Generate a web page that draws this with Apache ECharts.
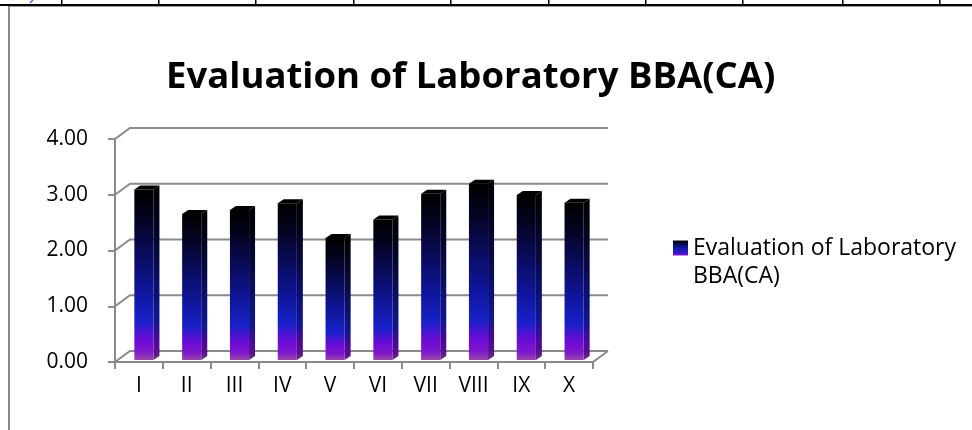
<!DOCTYPE html>
<html><head><meta charset="utf-8">
<script src="https://cdn.jsdelivr.net/npm/echarts@6/dist/echarts.min.js"></script>
<style>html,body{margin:0;padding:0;background:#fff}#c{width:972px;height:430px}</style>
</head><body><div id="c"></div>
<script>
const categories = ['I','II','III','IV','V','VI','VII','VIII','IX','X'];
const values = [3.06, 2.62, 2.69, 2.81, 2.19, 2.52, 2.98, 3.16, 2.96, 2.82];
const yTicks = [0, 1, 2, 3, 4];
const seriesName = 'Evaluation of Laboratory BBA(CA)';
const titleText = 'Evaluation of Laboratory BBA(CA)';

const FONT = 'Open Sans';
const DX = 15, DY = 11;
const BAR_DX = 6, BAR_DY = 4;
const BAR_OFF_X = 5, BAR_OFF_Y = 2;
const GRID_COLOR = '#8a8a8a';

function grad(stops) {
  return new echarts.graphic.LinearGradient(0, 0, 0, 1, stops.map(s => ({offset: s[0], color: s[1]})));
}
const frontStops = [[0,'#000000'],[0.15,'#03031c'],[0.4,'#0a0c62'],[0.6,'#0f169c'],[0.77,'#1820c8'],[0.88,'#6a0cd6'],[0.95,'#7e16cc'],[1,'#9848a8']];
const sideStops = [[0,'#000000'],[0.15,'#020214'],[0.4,'#070945'],[0.6,'#0b1070'],[0.77,'#11178e'],[0.88,'#4a0896'],[0.95,'#581090'],[1,'#6a3078']];
const legendStops = [[0,'#000000'],[0.5,'#1018a8'],[0.85,'#3a18d0'],[1,'#8a10d8']];

const chart = echarts.init(document.getElementById('c'));
chart.setOption({
  animation: false,
  backgroundColor: '#fff',
  title: {
    text: titleText, left: 161, top: 54,
    textStyle: {fontFamily: FONT, fontWeight: 'bold', fontSize: 36.5, color: '#000'}
  },
  legend: {
    orient: 'vertical', left: 673, top: 206, padding: 0, icon: 'rect', itemWidth: 15, itemHeight: 15,
    data: [{name: seriesName, itemStyle: {color: grad(legendStops)}}],
    formatter: n => '{e| }\n{a|' + n.replace(' BBA', '}\n{a|BBA') + '}',
    textStyle: {
      fontFamily: FONT, fontSize: 23, color: '#000', lineHeight: 28,
      rich: {e: {fontSize: 23, lineHeight: 28}, a: {fontFamily: FONT, fontSize: 23, color: '#000', lineHeight: 28}}
    }
  },
  grid: {left: 115, right: 379, top: 139, bottom: 68, containLabel: false},
  xAxis: {
    type: 'category', data: categories, boundaryGap: true,
    axisLine: {show: true, lineStyle: {color: GRID_COLOR, width: 2}},
    axisTick: {show: true, length: 7, lineStyle: {color: GRID_COLOR, width: 2}},
    axisLabel: {fontFamily: FONT, fontSize: 21, color: '#000', margin: 14},
    splitLine: {show: false}
  },
  yAxis: {
    type: 'value', min: 0, max: 4, interval: 1,
    axisLine: {show: true, lineStyle: {color: GRID_COLOR, width: 2}},
    axisTick: {show: true, length: 7, lineStyle: {color: GRID_COLOR, width: 2}},
    axisLabel: {fontFamily: FONT, fontSize: 21, color: '#000', margin: 27, formatter: v => v.toFixed(2)},
    splitLine: {show: false}
  },
  graphic: [
    {type: 'rect', shape: {x: 0, y: 4, width: 972, height: 2}, style: {fill: '#000'}},
    {type: 'rect', shape: {x: 8, y: 6, width: 964, height: 1}, style: {fill: '#9a9a9a'}},
    {type: 'rect', shape: {x: 8, y: 6, width: 2, height: 424}, style: {fill: '#8a8a8a'}},
    ...[61,158,255,353,450,548,645,742,842,939].map(x => ({type: 'rect', shape: {x: x, y: 0, width: 1.5, height: 5}, style: {fill: '#000'}})),
    {type: 'line', shape: {x1: 30, y1: 3, x2: 33, y2: 0}, style: {stroke: '#8a4ad0', lineWidth: 1.5}}
  ],
  series: [
    {
      type: 'custom', name: '_walls', silent: true, z: 1,
      data: yTicks.map(v => [0, v]), encode: {x: 0, y: 1},
      renderItem: function (params, api) {
        const cs = params.coordSys;
        const y = api.coord([0, api.value(1)])[1];
        const children = [{
          type: 'polyline',
          shape: {points: [[cs.x, y], [cs.x + DX, y - DY], [cs.x + cs.width + DX, y - DY]]},
          style: {stroke: GRID_COLOR, lineWidth: 2, fill: null}
        }];
        if (api.value(1) === 0) {
          children.push({type: 'line', shape: {x1: cs.x + cs.width, y1: y, x2: cs.x + cs.width + DX, y2: y - DY},
            style: {stroke: GRID_COLOR, lineWidth: 2}});
        }
        return {type: 'group', children: children};
      }
    },
    {
      type: 'custom', name: seriesName, z: 5,
      itemStyle: {color: grad(legendStops)},
      data: values.map((v, i) => [i, v]), encode: {x: 0, y: 1},
      renderItem: function (params, api) {
        const i = api.value(0), v = api.value(1);
        const base = api.coord([i, 0]);
        const top = api.coord([i, v]);
        const band = api.size([1, 0])[0];
        const w = band * 0.4;
        const xl = base[0] - w / 2 + BAR_OFF_X, xr = xl + w;
        const yb = base[1] - BAR_OFF_Y, yt = top[1] - BAR_OFF_Y;
        return {type: 'group', children: [
          {type: 'polygon', shape: {points: [[xr, yt], [xr + BAR_DX, yt - BAR_DY], [xr + BAR_DX, yb - BAR_DY], [xr, yb]]},
            style: {fill: grad(sideStops)}},
          {type: 'rect', shape: {x: xl, y: yt, width: w, height: yb - yt}, style: {fill: grad(frontStops)}},
          {type: 'polygon', shape: {points: [[xl, yt], [xr, yt], [xr + BAR_DX, yt - BAR_DY], [xl + BAR_DX, yt - BAR_DY]]},
            style: {fill: '#000'}}
        ]};
      }
    }
  ]
});
</script></body></html>
